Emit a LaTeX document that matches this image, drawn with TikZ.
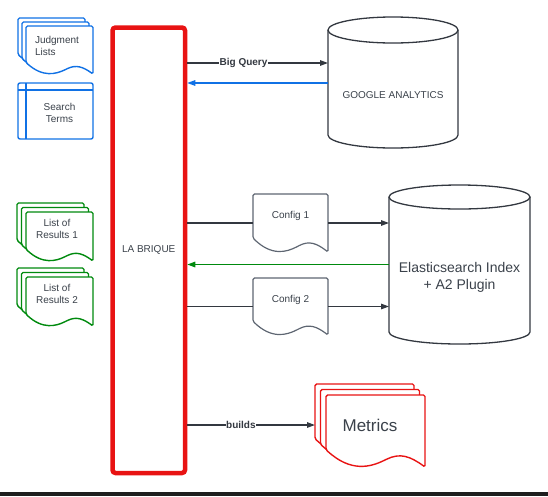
\documentclass[tikz,border=0pt]{standalone}
\usepackage{fontspec}
\setmainfont{Liberation Sans}
\usepackage{xcolor}
\usepackage{tikz}
\usetikzlibrary{positioning, arrows.meta, calc}

\definecolor{lucidred}{HTML}{E81313}
\definecolor{lucidblue}{HTML}{1071E5}
\definecolor{lucidgreen}{HTML}{008A0E}
\definecolor{linegray}{HTML}{333840}
\definecolor{textgray}{HTML}{3A414A}
\definecolor{docgray}{HTML}{5E6672}
\definecolor{darkbar}{HTML}{1E1E1E}

% document with wavy bottom: x, y (top left), w, h, style
\newcommand{\docshape}[5]{%
    \filldraw[#5, fill=white, rounded corners=1.5pt] (#1,#2+0.76*#4) -- (#1,#2) -- (#1+#3,#2) -- (#1+#3,#2+#4)
        .. controls (#1+0.85*#3,#2+0.85*#4) and (#1+0.75*#3,#2+0.8*#4) .. (#1+0.6*#3,#2+0.9*#4)
        .. controls (#1+0.45*#3,#2+1.0*#4) and (#1+0.25*#3,#2+1.08*#4) .. cycle;}
% three stacked documents: x, y (front top left), w, h, offset, style
\newcommand{\stackdoc}[6]{%
    \docshape{#1-2*#5}{#2-2*#5}{#3}{#4}{#6}
    \docshape{#1-#5}{#2-#5}{#3}{#4}{#6}
    \docshape{#1}{#2}{#3}{#4}{#6}}
% cylinder: x, y (top left), w, h, ry
\newcommand{\cylshape}[5]{%
    \draw[cyl] (#1,#2+#5) -- (#1,#2+#4-#5)
        .. controls (#1,#2+#4-0.448*#5) and (#1+0.224*#3,#2+#4) .. (#1+0.5*#3,#2+#4)
        .. controls (#1+0.776*#3,#2+#4) and (#1+#3,#2+#4-0.448*#5) .. (#1+#3,#2+#4-#5)
        -- (#1+#3,#2+#5);
    \draw[cyl] (#1+0.5*#3,#2+#5) ellipse [x radius=0.5*#3, y radius=#5];}

\begin{document}
\begin{tikzpicture}[x=1pt, y=-1pt,
    arr/.style={draw=linegray, line width=1.3pt, -{Triangle[length=8pt, width=5.5pt]}},
    link/.style={draw=linegray, line width=1.3pt},
    lbl/.style={fill=white, inner sep=0.6pt, text=linegray, font=\bfseries\fontsize{10}{12}\selectfont},
    txt/.style={text=textgray, font=\fontsize{10}{12}\selectfont, align=center},
    docframe/.style={inner sep=0pt, outer sep=0pt, draw=none},
    bluedoc/.style={draw=lucidblue, line width=1.4pt},
    greendoc/.style={draw=lucidgreen, line width=1.4pt},
    reddoc/.style={draw=lucidred, line width=1.4pt},
    graydoc/.style={draw=docgray, line width=1.2pt},
    cyl/.style={draw=linegray, line width=1.3pt}]
    \useasboundingbox (0,0) rectangle (548,496);

    \node[draw=lucidred, line width=4.5pt, rounded corners=3pt, minimum width=72.5pt, minimum height=445.5pt, txt] (brique) at (148.75,250.25) {LA BRIQUE};

    \stackdoc{26}{26}{67}{48}{4}{bluedoc}
    \node[txt, align=left] (judgment) at (57,46) {Judgment\\Lists};

    \draw[bluedoc, rounded corners=2pt] (18,83) rectangle (93,139);
    \draw[bluedoc] (26,83) -- (26,139) (18,90) -- (93,90);
    \node[txt] (terms) at (59.5,113) {Search\\Terms};

    \stackdoc{26}{212}{67}{49}{4.5}{greendoc}
    \node[txt] (res1) at (57,229) {List of\\Results 1};
    \stackdoc{26}{277}{67}{49}{4.5}{greendoc}
    \node[txt] (res2) at (57,294) {List of\\Results 2};

    \cylshape{328}{17}{130}{131}{13}
    \node[docframe, minimum width=130pt, minimum height=131pt, label={[txt, name=ga-text, yshift=-12.5pt]center:GOOGLE ANALYTICS}] (ga) at (393,82.5) {};

    \cylshape{389}{185}{141}{159}{12}
    \node[docframe, minimum width=141pt, minimum height=159pt, label={[txt, font=\fontsize{14}{16.5}\selectfont, name=es-text, yshift=-13pt]center:{Elasticsearch Index\\+ A2 Plugin}}] (es) at (459.5,264.5) {};

    \docshape{253}{194}{75}{58}{graydoc}
    \node[docframe, minimum width=75pt, minimum height=58pt, label={[txt, name=conf1-text, yshift=7pt]center:Config 1}] (conf1) at (290.5,223) {};
    \docshape{253}{278}{75}{57}{graydoc}
    \node[docframe, minimum width=75pt, minimum height=57pt, label={[txt, name=conf2-text, yshift=7pt]center:Config 2}] (conf2) at (290.5,306.5) {};

    \stackdoc{326}{395}{99}{72}{5.5}{reddoc}
    \node[docframe, minimum width=110pt, minimum height=84pt, txt, font=\fontsize{17}{20}\selectfont] (metrics) at (370,425) {Metrics};

    \coordinate (bq) at ($(ga.west)+(0,-19.5)$);
    \coordinate (gaback) at ($(ga.west)+(0,0.5)$);
    \draw[arr] (brique.east |- bq) -- node[lbl, pos=0.4] (bqlabel) {Big Query} (bq);
    \draw[arr, draw=lucidblue] (gaback) -- (brique.east |- gaback);

    \draw[link] (brique.east |- conf1.west) -- (conf1.west);
    \draw[arr] (conf1.east) -- (conf1.east -| es.west);
    \draw[arr, draw=lucidgreen] (es.west) -- (brique.east |- es.west);
    \draw[link] (brique.east |- conf2.west) -- (conf2.west);
    \draw[arr] (conf2.east) -- (conf2.east -| es.west);
    \draw[arr] (brique.east |- metrics.west) -- node[lbl, pos=0.42] (buildslabel) {builds} (metrics.west);

    \fill[darkbar] (0,492) rectangle (548,496);
\end{tikzpicture}
\end{document}
